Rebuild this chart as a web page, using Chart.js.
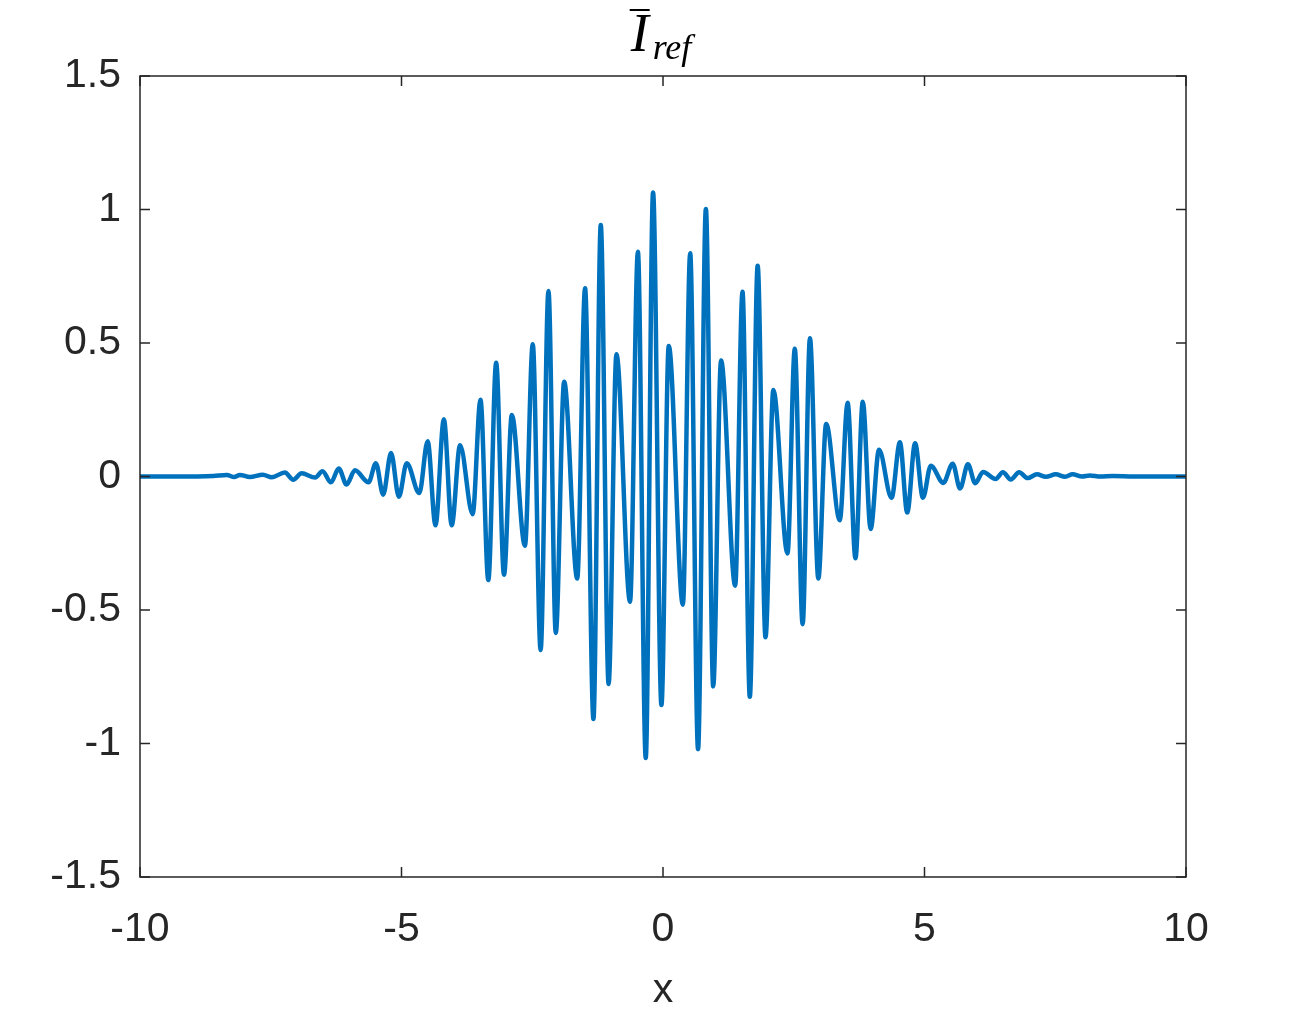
<!DOCTYPE html>
<html>
<head>
<meta charset="utf-8">
<script src="https://cdn.jsdelivr.net/npm/chart.js@4.4.1/dist/chart.umd.min.js"></script>
<style>
  html, body { margin: 0; padding: 0; background: #fff; }
  #wrap { width: 1316px; height: 1017px; }
</style>
</head>
<body>
<div id="wrap"><canvas id="plot"></canvas></div>
<script>
// values (x, I_ref)
const xVals = [
    -10, -9.33, -8.6, -8.34, -8.2, -8.09, -7.9, -7.65, -7.48, -7.23, -7.07, -6.91, -6.65, -6.51,
    -6.35, -6.20, -6.05, -5.89, -5.63, -5.49, -5.35, -5.20, -5.05, -4.90, -4.66, -4.50, -4.35,
    -4.19, -4.04, -3.88, -3.64, -3.49, -3.34, -3.19, -3.04, -2.89, -2.64, -2.49, -2.34, -2.19,
    -2.05, -1.89, -1.64, -1.49, -1.33, -1.19, -1.04, -0.89, -0.63, -0.48, -0.33, -0.19, -0.03,
    0.11, 0.38, 0.52, 0.67, 0.82, 0.96, 1.11, 1.38, 1.52, 1.66, 1.81, 1.96, 2.11, 2.38, 2.52,
    2.67, 2.81, 2.97, 3.12, 3.38, 3.53, 3.68, 3.82, 3.97, 4.13, 4.37, 4.53, 4.67, 4.82, 4.97,
    5.12, 5.36, 5.54, 5.68, 5.83, 5.97, 6.12, 6.36, 6.50, 6.65, 6.81, 6.97, 7.15, 7.32, 7.51,
    7.69, 7.83, 8.01, 8.16, 8.36, 8.6, 9.0, 10
];
const yVals = [
    0, 0, 0.002, 0.006, -0.002, 0.006, -0.002, 0.007, -0.003, 0.015, -0.012, 0.012, -0.004, 0.02,
    -0.022, 0.03, -0.03, 0.023, -0.022, 0.05, -0.068, 0.088, -0.076, 0.05, -0.062, 0.132, -0.183,
    0.214, -0.183, 0.117, -0.141, 0.287, -0.388, 0.426, -0.368, 0.23, -0.259, 0.495, -0.65, 0.695,
    -0.586, 0.355, -0.382, 0.705, -0.908, 0.942, -0.777, 0.458, -0.469, 0.842, -1.054, 1.064, -0.856,
    0.489, -0.48, 0.836, -1.021, 1.002, -0.786, 0.434, -0.409, 0.692, -0.825, 0.789, -0.602, 0.324,
    -0.288, 0.478, -0.553, 0.518, -0.382, 0.197, -0.164, 0.276, -0.306, 0.28, -0.197, 0.1, -0.08,
    0.128, -0.135, 0.125, -0.08, 0.04, -0.024, 0.048, -0.045, 0.046, -0.025, 0.017, -0.009, 0.016,
    -0.011, 0.016, -0.006, 0.008, -0.001, 0.008, -0.001, 0.008, 0, 0.004, 0, 0.002, 0, 0
];
const xTicks = [-10, -5, 0, 5, 10];
const yTicks = [-1.5, -1, -0.5, 0, 0.5, 1, 1.5];

const ink = '#262626';
const blue = '#0072BD';
const tickFont = { family: '"Liberation Sans", Arial, sans-serif', size: 41 };
const serif = '"Liberation Serif", "DejaVu Serif", serif';

const boxPlugin = {
    id: 'box',
    afterDraw(chart) {
        const { ctx, chartArea: a, scales } = chart;
        ctx.save();
        ctx.strokeStyle = ink;
        ctx.lineWidth = 1.5;
        ctx.strokeRect(a.left, a.top, a.right - a.left, a.bottom - a.top);
        // inward ticks on all four sides
        const len = 10;
        ctx.beginPath();
        xTicks.forEach((v) => {
            const px = scales.x.getPixelForValue(v);
            ctx.moveTo(px, a.bottom); ctx.lineTo(px, a.bottom - len);
            ctx.moveTo(px, a.top); ctx.lineTo(px, a.top + len);
        });
        yTicks.forEach((v) => {
            const py = scales.y.getPixelForValue(v);
            ctx.moveTo(a.left, py); ctx.lineTo(a.left + len, py);
            ctx.moveTo(a.right, py); ctx.lineTo(a.right - len, py);
        });
        ctx.stroke();

        // title: I with overbar, subscript ref
        const cx = (a.left + a.right) / 2 - 2;
        ctx.fillStyle = '#000';
        ctx.textBaseline = 'alphabetic';
        ctx.font = 'italic 54px ' + serif;
        const wI = ctx.measureText('I').width;
        ctx.font = 'italic 36px ' + serif;
        const wSub = ctx.measureText('ref').width;
        const x0 = cx - (wI + 4 + wSub) / 2;
        ctx.font = 'italic 54px ' + serif;
        ctx.fillText('I', x0, 51);
        ctx.font = 'italic 36px ' + serif;
        ctx.fillText('ref', x0 + wI + 4, 59);
        ctx.strokeStyle = '#000';
        ctx.lineWidth = 2;
        ctx.beginPath();
        ctx.moveTo(x0 - 1, 10);
        ctx.lineTo(x0 + wI + 1, 10);
        ctx.stroke();
        ctx.restore();
    }
};

new Chart(document.getElementById('plot'), {
    type: 'line',
    data: {
        datasets: [{
            label: 'I_ref',
            data: xVals.map((x, i) => ({ x, y: yVals[i] })),
            borderColor: blue,
            borderWidth: 4.5,
            borderJoinStyle: 'round',
            borderCapStyle: 'round',
            pointRadius: 0,
            cubicInterpolationMode: 'monotone',
            fill: false
        }]
    },
    options: {
        responsive: true,
        maintainAspectRatio: false,
        animation: false,
        layout: { padding: { top: 76, right: 130, left: 0, bottom: 0 } },
        plugins: { legend: { display: false }, tooltip: { enabled: false } },
        scales: {
            x: {
                type: 'linear',
                min: -10,
                max: 10,
                afterFit: (s) => { s.height = 140; },
                afterBuildTicks: (s) => { s.ticks = xTicks.map((v) => ({ value: v })); },
                grid: { display: false, drawTicks: false },
                border: { display: false },
                ticks: { color: ink, font: tickFont, padding: 28, maxRotation: 0, callback: (v) => String(v) },
                title: { display: true, text: 'x', color: ink, font: tickFont, padding: { top: 0, bottom: 2 } }
            },
            y: {
                min: -1.5,
                max: 1.5,
                afterFit: (s) => { s.width = 140; },
                afterBuildTicks: (s) => { s.ticks = yTicks.map((v) => ({ value: v })); },
                grid: { display: false, drawTicks: false },
                border: { display: false },
                ticks: { color: ink, font: tickFont, padding: 19, callback: (v) => String(v) }
            }
        }
    },
    plugins: [boxPlugin]
});
</script>
</body>
</html>
